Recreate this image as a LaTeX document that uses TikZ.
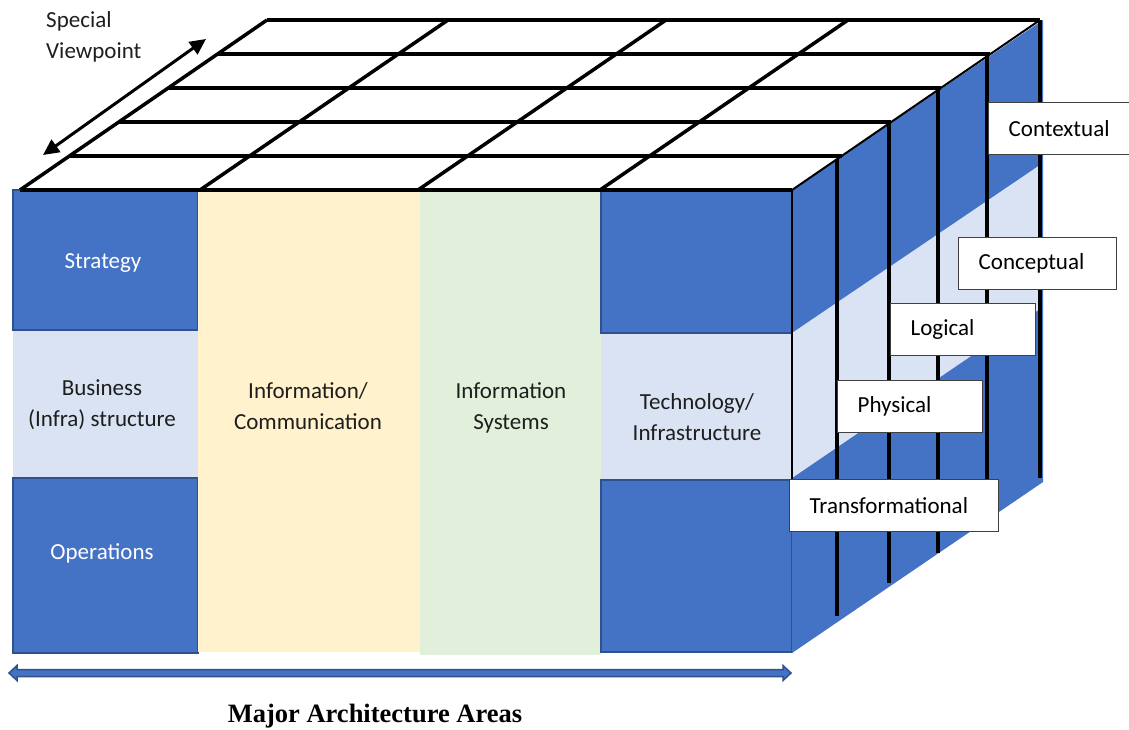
\documentclass[tikz,border=0pt]{standalone}
\usepackage{fontspec}
\setmainfont{Carlito}
\newfontfamily\titlefont{Liberation Serif}
\usetikzlibrary{arrows.meta}
\definecolor{dblue}{HTML}{4472C4}
\definecolor{lblue}{HTML}{DAE3F3}
\definecolor{bord}{HTML}{2F528F}
\definecolor{yel}{HTML}{FFF2CC}
\definecolor{grn}{HTML}{E2EFDA}
\definecolor{txt}{HTML}{1E1E1E}
\definecolor{tagline}{HTML}{404040}
\begin{document}
\begin{tikzpicture}[x=1pt,y=-1pt,
  lbl/.style={font=\fontsize{23}{31}\selectfont, align=center, inner sep=0},
  tagbox/.style={draw=tagline, fill=white, line width=1.3pt, minimum height=52, inner xsep=20, inner ysep=0, font=\fontsize{23}{28}\selectfont, anchor=north west},
  gridline/.style={line width=3.5pt, line cap=butt},
  darkblock/.style={fill=dblue, draw=bord, line width=1.5pt}
]
\useasboundingbox (0,0) rectangle (1129,729);
% front face
\fill[lblue] (13,190) rectangle (198,653);
\filldraw[darkblock] (13,190) rectangle (198,330);
\filldraw[darkblock] (13,478) rectangle (198,653);
\fill[yel] (198,190) rectangle (420,652);
\fill[grn] (420,190) rectangle (601,655);
\fill[lblue] (601,190) rectangle (792,652);
\filldraw[darkblock] (601,190) rectangle (792,333);
\filldraw[darkblock] (601,480) rectangle (792,652);
% side face
\fill[dblue] (792,190) -- (1043,20) -- (1043,482) -- (792,653) -- cycle;
\fill[lblue] (792,333) -- (1040,165) -- (1040,309) -- (792,478) -- cycle;
\draw[line width=2pt] (792,190) -- (792,480);
% side vertical lines
\foreach \x/\t/\b in {837/159/616, 889/123.5/583, 938/90/553, 987/56.3/518, 1040/20/478}
  \draw[gridline] (\x,\t) -- (\x,\b);
% top face grid
\foreach \t in {0.2,0.4,0.6,0.8,1}
  \draw[gridline] ({20+247*\t},{190-170*\t}) -- ({792+248*\t},{190-170*\t});
\draw[gridline] (20,190) -- (792,190);
\draw[gridline] (20,190) -- (267,20);
\draw[gridline] (200,190) -- (448,20);
\draw[gridline] (418,190) -- (666,20);
\draw[gridline] (600,190) -- (848,20);
\draw[line width=2pt] (792,190) -- (1040,20);
% front labels
\node[lbl, text=white] (strategy) at (103,263) {Strategy};
\node[lbl, text=txt] (business) at (102,405) {Business\\(Infra) structure};
\node[lbl, text=white] (operations) at (102,553) {Operations};
\node[lbl, text=txt] (infocomm) at (308,406) {Information/\\Communication};
\node[lbl, text=txt] (infosys) at (511,408) {Information\\Systems};
\node[lbl, text=txt] (techinfra) at (697,417) {Technology/\\Infrastructure};
% level tags
\node[tagbox] (contextual) at (988,102) {\makebox[101pt][l]{Contextual}};
\node[tagbox] (conceptual) at (958,237) {\makebox[118pt][l]{Conceptual}};
\node[tagbox] (logical) at (890,303) {\makebox[105pt][l]{Logical}};
\node[tagbox] (physical) at (837,380) {\makebox[105pt][l]{Physical}};
\node[tagbox] (transformational) at (789,479) {\makebox[169pt][l]{Transformational}};
% special viewpoint
\node[lbl, align=left, anchor=north west, text=txt] (special) at (46,11) {Special\\Viewpoint};
\coordinate (svA) at (43,155);
\coordinate (svB) at (206,39);
\draw[line width=3pt, {Triangle[length=16,width=15]}-{Triangle[length=16,width=15]}] (svA) -- (svB);
% bottom arrow
\filldraw[fill=dblue, draw=bord, line width=1.5pt]
  (9,673) -- (17,665.5) -- (17,669.5) -- (783,669.5) -- (783,665.5) -- (791,673)
  -- (783,680.5) -- (783,676.5) -- (17,676.5) -- (17,680.5) -- cycle;
\node[font=\titlefont\bfseries\fontsize{26.5}{30}\selectfont, inner sep=0] (title) at (375,716) {Major Architecture Areas};
\end{tikzpicture}
\end{document}
